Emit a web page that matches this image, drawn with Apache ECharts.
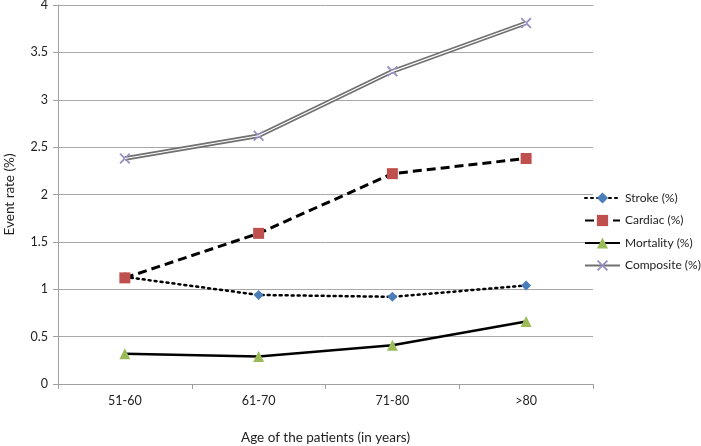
<!DOCTYPE html>
<html>
<head>
<meta charset="utf-8">
<script src="https://cdn.jsdelivr.net/npm/echarts@6/dist/echarts.min.js"></script>
<style>html,body{margin:0;padding:0;background:#fff}#c{width:701px;height:446px}</style>
</head>
<body>
<div id="c"></div>
<script>
const categories = ['51-60', '61-70', '71-80', '>80'];
const stroke = [1.13, 0.94, 0.92, 1.04];
const cardiac = [1.12, 1.59, 2.22, 2.38];
const mortality = [0.32, 0.29, 0.41, 0.66];
const composite = [2.38, 2.62, 3.30, 3.81];

const font = 'Lato, "Liberation Sans", sans-serif';
const xMark = 'path://M0,1.2L1.2,0L5,3.8L8.8,0L10,1.2L6.2,5L10,8.8L8.8,10L5,6.2L1.2,10L0,8.8L3.8,5Z';

const chart = echarts.init(document.getElementById('c'));
chart.setOption({
  animation: false,
  backgroundColor: '#fff',
  grid: { left: 58, right: 108, top: 5, bottom: 62, containLabel: false, outerBoundsMode: 'none' },
  legend: {
    orient: 'vertical', left: 579, top: 187, width: 122,
    itemWidth: 35, itemHeight: 14, itemGap: 10.5,
    textStyle: { fontFamily: font, fontSize: 12, color: '#222' },
    data: ['Stroke (%)', 'Cardiac (%)', 'Mortality (%)', 'Composite (%)']
  },
  xAxis: {
    type: 'category', data: categories, boundaryGap: true,
    name: 'Age of the patients (in years)', nameLocation: 'middle', nameGap: 47,
    nameTextStyle: { fontFamily: font, fontSize: 13.5, color: '#222' },
    axisLine: { lineStyle: { color: '#a0a0a0', width: 1 } },
    axisTick: { show: true, length: 5, lineStyle: { color: '#a0a0a0' } },
    axisLabel: { fontFamily: font, fontSize: 12.5, color: '#222', margin: 10 }
  },
  yAxis: {
    type: 'value', min: 0, max: 4, interval: 0.5,
    name: 'Event rate (%)', nameLocation: 'middle', nameGap: 41, nameRotate: 90,
    nameTextStyle: { fontFamily: font, fontSize: 13.5, color: '#222' },
    axisLine: { show: true, lineStyle: { color: '#a0a0a0', width: 1 } },
    axisTick: { show: true, length: 5, inside: false, lineStyle: { color: '#a0a0a0' } },
    axisLabel: { fontFamily: font, fontSize: 12.5, color: '#222', margin: 10 },
    splitLine: { show: true, lineStyle: { color: '#a8a8a8', width: 1 } }
  },
  series: [
    {
      name: 'Composite (%)', type: 'line', data: composite,
      symbol: xMark, symbolSize: 11,
      itemStyle: { color: '#9a8fc4' },
      lineStyle: { color: '#707070', width: 4.5 }, z: 2
    },
    {
      name: 'Composite inner', type: 'line', data: composite,
      symbol: 'none', silent: true,
      lineStyle: { color: '#ffffff', width: 1.2 }, z: 3
    },
    {
      name: 'Stroke (%)', type: 'line', data: stroke,
      symbol: 'diamond', symbolSize: 10,
      itemStyle: { color: '#4a7ebb' },
      lineStyle: { color: '#000', width: 2.5, type: [2, 4], cap: 'round' }, z: 4
    },
    {
      name: 'Cardiac (%)', type: 'line', data: cardiac,
      symbol: 'rect', symbolSize: 11,
      itemStyle: { color: '#c0504d' },
      lineStyle: { color: '#000', width: 3, type: [9, 5] }, z: 5
    },
    {
      name: 'Mortality (%)', type: 'line', data: mortality,
      symbol: 'triangle', symbolSize: 11,
      itemStyle: { color: '#9bbb59' },
      lineStyle: { color: '#000', width: 2.5 }, z: 4
    }
  ]
});
</script>
</body>
</html>
